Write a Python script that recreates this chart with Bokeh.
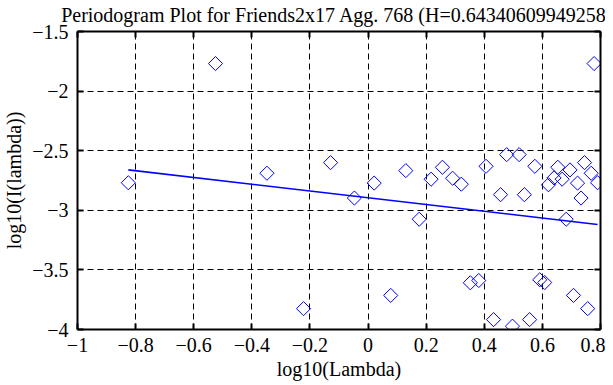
import math
from bokeh.plotting import figure
from bokeh.models import Range1d, LinearAxis, FixedTicker, Title
from bokeh.embed import file_html
from bokeh.resources import INLINE

# ---- data ----
log_lambda = [-0.825, -0.525, -0.348, -0.222, -0.129, -0.047, 0.021, 0.078, 0.130, 0.176,
              0.217, 0.256, 0.291, 0.321, 0.352, 0.381, 0.406, 0.432, 0.456, 0.477,
              0.497, 0.520, 0.538, 0.556, 0.574, 0.591, 0.608, 0.621, 0.640, 0.653,
              0.668, 0.682, 0.695, 0.707, 0.721, 0.733, 0.745, 0.756, 0.768, 0.778, 0.790]
log_I = [-2.769, -1.769, -2.689, -3.825, -2.600, -2.897, -2.772, -3.714, -2.667, -3.075,
         -2.739, -2.639, -2.731, -2.781, -3.608, -3.589, -2.631, -3.917, -2.869, -2.533,
         -3.972, -2.533, -2.869, -3.917, -2.631, -3.583, -3.606, -2.786, -2.728, -2.639,
         -2.739, -3.075, -2.661, -3.714, -2.772, -2.897, -2.600, -3.825, -2.689, -1.769, -2.769]
fit_x = [-0.825, 0.790]
fit_y = [-2.661, -3.119]

x_ticks = [-1, -0.8, -0.6, -0.4, -0.2, 0, 0.2, 0.4, 0.6, 0.8]
x_tick_labels = ["\u22121", "\u22120.8", "\u22120.6", "\u22120.4", "\u22120.2", "0", "0.2", "0.4", "0.6", "0.8"]
y_ticks = [-4, -3.5, -3, -2.5, -2, -1.5]
y_tick_labels = ["\u22124", "\u22123.5", "\u22123", "\u22122.5", "\u22122", "\u22121.5"]

title_text = "Periodogram Plot for Friends2x17 Agg. 768 (H=0.643406099492582"
x_label = "log10(Lambda)"
y_label = "log10(I(lambda))"

FONT = "Liberation Serif, serif"
FS = "20px"

p = figure(width=605, height=385, output_backend="svg", toolbar_location=None,
           x_range=Range1d(-1, 0.8), y_range=Range1d(-4, -1.5),
           min_border_left=73, min_border_right=5, min_border_top=30, min_border_bottom=56,
           x_axis_location=None, y_axis_location=None,
           title=Title(text=title_text, text_font=FONT, text_font_size=FS,
                       text_font_style="normal", align="center", standoff=7,
                       vertical_align="top", text_color="black"))

p.outline_line_color = None
p.background_fill_color = "white"
p.border_fill_color = "white"

bottom_ax = LinearAxis(ticker=FixedTicker(ticks=x_ticks), axis_label=x_label,
                       major_label_overrides=dict(zip(x_ticks, x_tick_labels)),
                       major_label_standoff=8, axis_label_standoff=3,
                       major_label_text_font_size=FS)
left_ax = LinearAxis(ticker=FixedTicker(ticks=y_ticks), axis_label=y_label,
                     major_label_overrides=dict(zip(y_ticks, y_tick_labels)),
                     major_label_standoff=9, axis_label_standoff=4,
                     major_label_text_font_size=FS)
top_ax = LinearAxis(ticker=FixedTicker(ticks=x_ticks))
right_ax = LinearAxis(ticker=FixedTicker(ticks=y_ticks))
for ax in (top_ax, right_ax):
    ax.major_label_text_font_size = "0px"
    ax.major_label_text_color = None
    ax.major_label_standoff = 0

p.add_layout(bottom_ax, "below")
p.add_layout(left_ax, "left")
p.add_layout(top_ax, "above")
p.add_layout(right_ax, "right")

for ax in (bottom_ax, left_ax, top_ax, right_ax):
    ax.axis_line_color = "black"
    ax.axis_line_width = 2
    ax.major_tick_in = 6
    ax.major_tick_out = 0
    ax.major_tick_line_color = "black"
    ax.major_tick_line_width = 2
    ax.minor_tick_line_color = None
    ax.major_label_text_font = FONT
    ax.axis_label_text_font = FONT
    ax.axis_label_text_font_style = "normal"
    ax.axis_label_text_color = "black"
    ax.axis_label_text_font_size = FS
for ax in (bottom_ax, left_ax):
    ax.major_label_text_color = "black"

p.xgrid.ticker = FixedTicker(ticks=x_ticks)
p.ygrid.ticker = FixedTicker(ticks=y_ticks)
for g in (p.xgrid[0], p.ygrid[0]):
    g.grid_line_color = "black"
    g.grid_line_width = 1
    g.grid_line_dash = "6 4"
    g.grid_line_alpha = 1.0

p.line(fit_x, fit_y, line_color="#0000ff", line_width=1.6)
p.scatter(log_lambda, log_I, marker="square", angle=math.pi / 4, size=10,
          fill_color=None, line_color="#0000ff", line_width=1)

open("out.html", "w").write(file_html(p, INLINE))
